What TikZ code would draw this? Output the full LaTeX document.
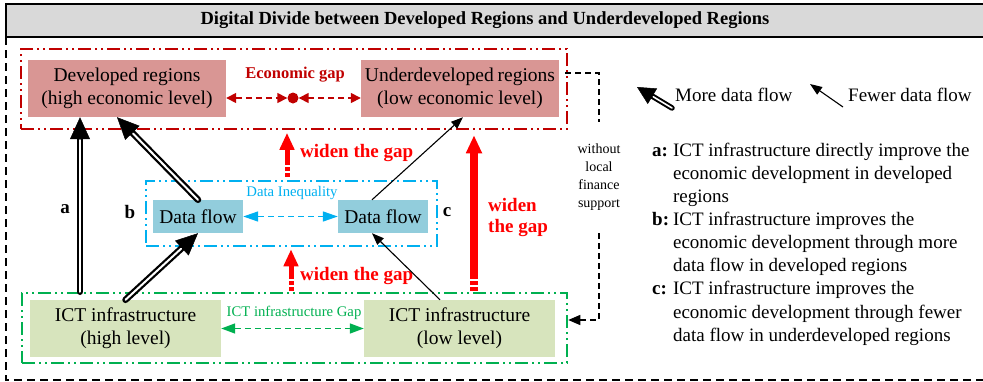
\documentclass[tikz,border=0pt]{standalone}
\usepackage{fontspec}
\setmainfont{Liberation Serif}
\usetikzlibrary{arrows.meta,calc}
\definecolor{ecored}{HTML}{C00000}
\definecolor{widered}{HTML}{FF0000}
\definecolor{cyanc}{HTML}{00B0F0}
\definecolor{greenc}{HTML}{00B050}
\definecolor{regfill}{HTML}{D99694}
\definecolor{dffill}{HTML}{92CDDC}
\definecolor{ictfill}{HTML}{D7E4BD}
\definecolor{titlegray}{HTML}{D9D9D9}
\newcommand\fsz[2]{\fontsize{#1}{#2}\selectfont}
\begin{document}
\begin{tikzpicture}[x=1pt,y=-1pt,
  boxnode/.style={rectangle, inner sep=0pt, align=center, font=\fsz{19.5}{23}},
  framebox/.style={rectangle, draw, line width=2.5pt, inner sep=0pt,
    dash pattern=on 13pt off 4pt on 2pt off 4pt on 2pt off 4pt},
  bighead/.style={line width=0.5pt, black, -{Triangle[length=22pt,width=20pt]}},
  bigshaft/.style={line width=6.5pt, black, line cap=round, shorten >=20pt},
  bigcore/.style={white, line width=2pt, line cap=round, shorten >=23pt},
  thinarrow/.style={line width=1.1pt, black, -{Triangle[length=12pt,width=9pt]}},
  gaparrow/.style={line width=1.5pt, dash pattern=on 6pt off 4pt,
    {Triangle[length=#1,width=10pt]}-{Triangle[length=#1,width=10pt]}},
  widenarrow/.style={widered, line width=5pt,
    dash pattern=on 4pt off 2pt on 4pt off 2pt on 400pt off 1pt,
    -{Triangle[length=17pt,width=14pt]}},
  widenlabel/.style={text=widered, font=\bfseries\fsz{19}{21}, inner sep=0pt, align=left},
  gaplabel/.style={font=\fsz{14.7}{17}, inner sep=0pt},
  letterlabel/.style={font=\bfseries\fsz{19}{21}, inner sep=0pt},
  blkdash/.style={line width=1.2pt, dash pattern=on 6pt off 4pt}
]
\useasboundingbox (0,0) rectangle (983,381);

% title bar and outer frame
\draw[line width=1.5pt, fill=titlegray] (6,4) rectangle (995,37);
\node[font=\bfseries\fsz{18.5}{21}, inner sep=0pt] (title) at (485,20.5)
  {Digital Divide between Developed Regions and Underdeveloped Regions};
\draw[line width=1.2pt, dash pattern=on 8pt off 5pt] (6,37) -- (6,380) -- (995,380);

% frames
\node[framebox, draw=ecored, minimum width=546pt, minimum height=80pt] (redframe) at (294,89) {};
\node[framebox, draw=cyanc, minimum width=291pt, minimum height=65pt] (blueframe) at (291.5,213.5) {};
\node[framebox, draw=greenc, minimum width=545pt, minimum height=70pt] (greenframe) at (294.5,328) {};

% boxes
\node[boxnode, fill=regfill, minimum width=198pt, minimum height=57pt] (dev) at (127,88.5)
  {Developed regions\\(high economic level)};
\node[boxnode, fill=regfill, minimum width=198pt, minimum height=57pt] (und) at (460,88.5)
  {Underdeveloped\hspace{-1pt} regions\\(low economic level)};
\node[boxnode, fill=dffill, minimum width=90pt, minimum height=33pt] (dfl) at (198,216.5) {Data flow};
\node[boxnode, fill=dffill, minimum width=90pt, minimum height=33pt] (dfr) at (383,216.5) {Data flow};
\node[boxnode, fill=ictfill, minimum width=191pt, minimum height=57pt] (ichigh) at (125.5,328.5)
  {ICT infrastructure\\(high level)};
\node[boxnode, fill=ictfill, minimum width=191pt, minimum height=57pt] (iclow) at (459.5,328.5)
  {ICT infrastructure\\(low level)};

% economic gap
\node[circle, fill=ecored, minimum size=11pt, inner sep=0pt] (dot) at (293,98) {};
\node[text=ecored, font=\bfseries\fsz{16.5}{19}, inner sep=0pt] (ecolab) at (295,75) {Economic gap};
\draw[gaparrow=10pt, ecored] (dot.west -| dev.east) -- (dot.west);
\draw[gaparrow=10pt, ecored] (dot.east) -- (dot.east -| und.west);

% data inequality
\node[gaplabel, text=cyanc] (dilab) at (292,193) {Data Inequality};
\draw[gaparrow=15pt, cyanc] (dfl.east) -- (dfr.west);

% ICT gap
\node[gaplabel, text=greenc] (ictlab) at (294,313) {ICT infrastructure Gap};
\draw[gaparrow=14pt, greenc] (ichigh.east) -- (iclow.west);

% widen the gap arrows
\coordinate (w1) at (287,0);
\coordinate (w2) at (291,0);
\coordinate (w3) at (474,0);
\draw[widenarrow, shorten <=3pt, shorten >=2.5pt] (w1 |- blueframe.north) -- (w1 |- redframe.south);
\draw[widenarrow, shorten <=1pt, shorten >=2pt] (w2 |- greenframe.north) -- (w2 |- blueframe.south);
\draw[widenarrow, line width=8pt, shorten <=1pt, shorten >=5pt,
  -{Triangle[length=18pt,width=15pt]}] (w3 |- greenframe.north) -- (w3 |- redframe.south);
\node[widenlabel, anchor=west] (wl1) at (300,153) {widen the gap};
\node[widenlabel, anchor=west] (wl2) at (300,276) {widen the gap};
\node[widenlabel, anchor=west] (wl3) at (488,218) {widen\\the gap};

% letters
\node[letterlabel] (la) at (65,209) {a};
\node[letterlabel] (lb) at (130,212) {b};
\node[letterlabel] (lc) at (447,212) {c};

% black arrows
\coordinate (ax) at (80,0);
\draw[bighead] (ax |- greenframe.north) -- (ax |- dev.south);
\draw[bigshaft] (ax |- greenframe.north) -- (ax |- dev.south);
\draw[bigcore] (ax |- greenframe.north) -- (ax |- dev.south);
\draw[bighead] (ichigh.north) -- (dfl.south);
\draw[bigshaft] (ichigh.north) -- (dfl.south);
\draw[bigcore] (ichigh.north) -- (dfl.south);
\draw[bighead] (dfl.north) -- ([xshift=-10pt]dev.south);
\draw[bigshaft] (dfl.north) -- ([xshift=-10pt]dev.south);
\draw[bigcore] (dfl.north) -- ([xshift=-10pt]dev.south);
\draw[thinarrow] ([xshift=-19.5pt]iclow.north) -- ([xshift=-11pt]dfr.south);
\draw[thinarrow] ([xshift=-11pt]dfr.north) -- ([xshift=3pt]und.south);

% without local finance support
\node[font=\fsz{14}{18}, align=center, inner sep=0pt, minimum height=111pt] (fin) at (599,177.5)
  {without\\local\\finance\\support};
\draw[blkdash] ([xshift=6pt,yshift=15.5pt]und.east) -| (fin.north);
\draw[blkdash, -{Triangle[length=12pt,width=10pt]}] (fin.south) |- ([yshift=8pt]greenframe.east);

% legend
\coordinate (lm1) at (672,108);
\coordinate (lm2) at (637,87);
\coordinate (lf1) at (843,107);
\coordinate (lf2) at (810,84);
\draw[bighead, -{Triangle[length=18pt,width=18pt]}] (lm1) -- (lm2);
\draw[bigshaft, line width=5.5pt, shorten >=16pt] (lm1) -- (lm2);
\draw[bigcore, line width=1.6pt, shorten >=19pt] (lm1) -- (lm2);
\draw[thinarrow] (lf1) -- (lf2);
\node[font=\fsz{19}{23}, anchor=west, inner sep=0pt] (more) at (675,95) {More data flow};
\node[font=\fsz{19}{23}, anchor=west, inner sep=0pt] (fewer) at (848,95) {Fewer data flow};

% description
\node[font=\fsz{19}{23.1}, anchor=north west, inner sep=0pt] (desc) at (652,140)
{\begin{tabular}{@{}l@{\hspace{4pt}}l@{}}
 \textbf{a:} & ICT infrastructure directly improve the\\
  & economic development in developed\\
  & regions\\
 \textbf{b:} & ICT infrastructure improves the\\
  & economic development through more\\
  & data flow in developed regions\\
 \textbf{c:} & ICT infrastructure improves the\\
  & economic development through fewer\\
  & data flow in underdeveloped regions
 \end{tabular}};
\end{tikzpicture}
\end{document}
